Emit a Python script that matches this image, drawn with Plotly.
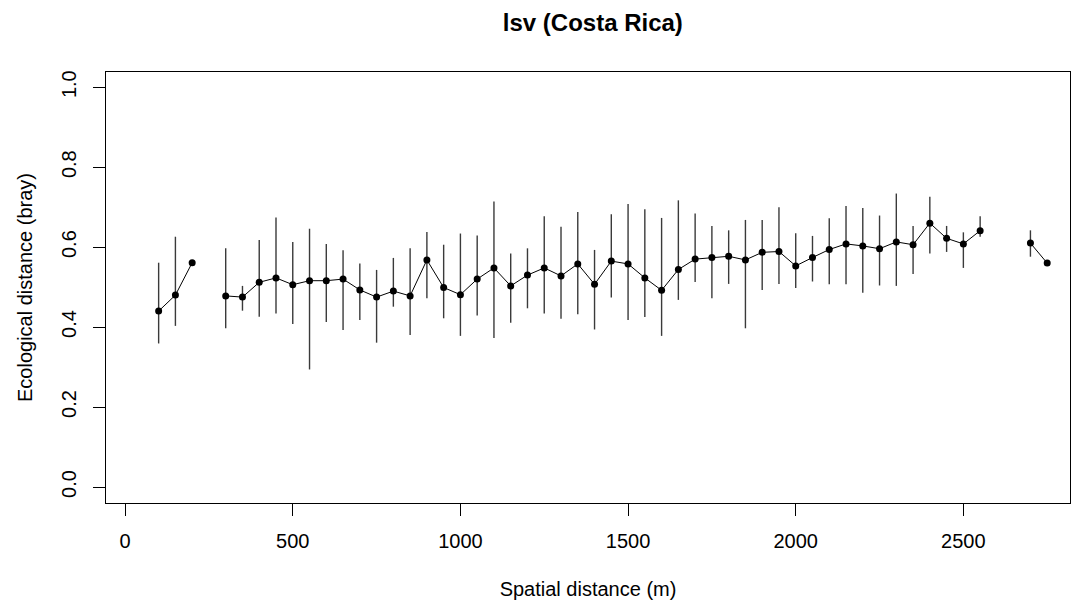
import plotly.graph_objects as go

# ---- data ----
distance = [100, 150, 200, 250, 300, 350, 400, 450, 500, 550, 600, 650, 700, 750,
            800, 850, 900, 950, 1000, 1050, 1100, 1150, 1200, 1250, 1300, 1350,
            1400, 1450, 1500, 1550, 1600, 1650, 1700, 1750, 1800, 1850, 1900, 1950,
            2000, 2050, 2100, 2150, 2200, 2250, 2300, 2350, 2400, 2450, 2500, 2550,
            2600, 2650, 2700, 2750]

mean_dist = [0.440, 0.480, 0.561, None, 0.478, 0.475, 0.512, 0.523, 0.506, 0.516,
             0.516, 0.520, 0.493, 0.475, 0.490, 0.478, 0.568, 0.499, 0.481, 0.520,
             0.548, 0.503, 0.530, 0.548, 0.528, 0.558, 0.507, 0.565, 0.558, 0.523,
             0.492, 0.544, 0.570, 0.574, 0.577, 0.568, 0.587, 0.589, 0.553, 0.574,
             0.594, 0.608, 0.603, 0.596, 0.613, 0.606, 0.660, 0.622, 0.608, 0.641,
             None, None, 0.610, 0.560]

upper = [0.561, 0.626, None, None, 0.597, 0.503, 0.618, 0.674, 0.613, 0.646,
         0.608, 0.592, 0.559, 0.543, 0.573, 0.597, 0.638, 0.606, 0.634, 0.629,
         0.714, 0.584, 0.597, 0.677, 0.651, 0.688, 0.593, 0.682, 0.708, 0.695,
         0.673, 0.717, 0.684, 0.653, 0.642, 0.668, 0.668, 0.700, 0.635, 0.628,
         0.672, 0.703, 0.698, 0.679, 0.734, 0.653, 0.726, 0.653, 0.637, 0.677,
         None, None, 0.642, None]

lower = [0.359, 0.403, None, None, 0.397, 0.441, 0.426, 0.434, 0.408, 0.294,
         0.413, 0.393, 0.418, 0.361, 0.451, 0.380, 0.472, 0.422, 0.378, 0.429,
         0.373, 0.411, 0.447, 0.434, 0.421, 0.432, 0.394, 0.474, 0.418, 0.425,
         0.378, 0.468, 0.513, 0.472, 0.508, 0.397, 0.493, 0.508, 0.498, 0.514,
         0.507, 0.507, 0.486, 0.504, 0.503, 0.533, 0.584, 0.588, 0.548, 0.626,
         None, None, 0.576, None]

x_ticks = [0, 500, 1000, 1500, 2000, 2500]
y_ticks = [0.0, 0.2, 0.4, 0.6, 0.8, 1.0]

FONT = "Liberation Sans, Arial, sans-serif"

# vertical range segments
seg_x, seg_y = [], []
for d, lo, hi in zip(distance, lower, upper):
    if lo is None or hi is None:
        continue
    seg_x += [d, d, None]
    seg_y += [lo, hi, None]

fig = go.Figure()
fig.add_trace(go.Scatter(x=seg_x, y=seg_y, mode="lines",
                         line=dict(color="#3a3a3a", width=1.4),
                         hoverinfo="skip", showlegend=False))
fig.add_trace(go.Scatter(x=distance, y=mean_dist, mode="lines+markers",
                         connectgaps=False,
                         line=dict(color="black", width=1),
                         marker=dict(color="black", size=7),
                         showlegend=False))

fig.update_layout(
    width=1071, height=602,
    margin=dict(l=106, r=1, t=72, b=99),
    paper_bgcolor="white", plot_bgcolor="white",
    font=dict(family=FONT, size=20, color="black"),
    title=dict(text="<b>lsv (Costa Rica)</b>", font=dict(family=FONT, size=24, color="black"),
               x=0.505, xref="paper", xanchor="center",
               y=1 - 23 / 602, yref="container", yanchor="middle"),
    xaxis=dict(range=[-57, 2818], tickvals=x_ticks, ticktext=[str(v) for v in x_ticks],
               showgrid=False, zeroline=False,
               showline=True, linecolor="black", linewidth=1, mirror=True,
               ticks="outside", ticklen=12, tickcolor="black", tickwidth=1,
               ticklabelstandoff=8,
               tickfont=dict(family=FONT, size=20, color="black"),
               title=dict(text="Spatial distance (m)", standoff=30,
                          font=dict(family=FONT, size=20, color="black"))),
    yaxis=dict(range=[-0.04, 1.038], tickvals=y_ticks,
               ticktext=["%.1f" % v for v in y_ticks],
               showgrid=False, zeroline=False,
               showline=True, linecolor="black", linewidth=1, mirror=True,
               ticks="outside", ticklen=12, tickcolor="black", tickwidth=1,
               tickangle=-90, ticklabelstandoff=9,
               tickfont=dict(family=FONT, size=20, color="black"),
               title=dict(text="Ecological distance (bray)", standoff=20,
                          font=dict(family=FONT, size=20, color="black"))),
)

fig.write_html("out.html")
